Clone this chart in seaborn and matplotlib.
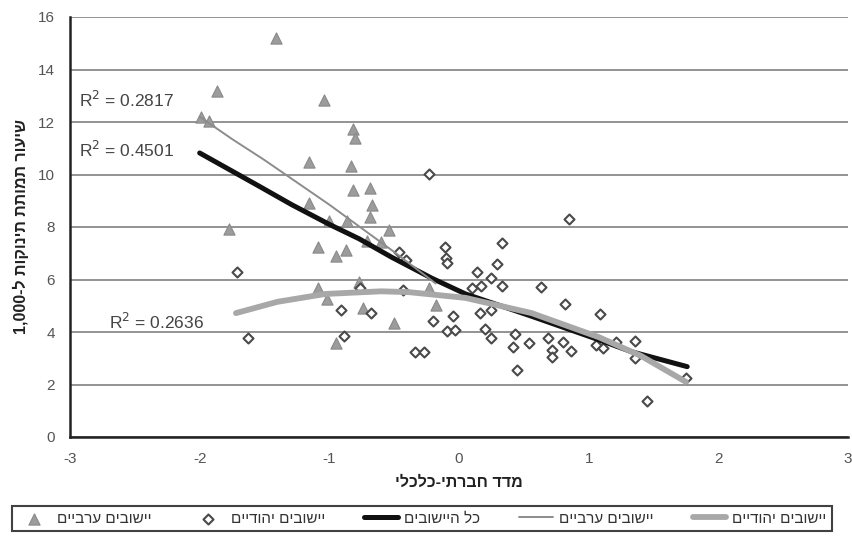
import re
import matplotlib
matplotlib.use("Agg")
import matplotlib.pyplot as plt
import seaborn as sns
import pandas as pd

# ---------------- data ----------------
arab_x = [-1.41, -1.87, -1.99, -1.93, -1.04, -0.82, -0.80, -1.16, -0.83, -0.82,
          -0.69, -1.16, -0.67, -1.77, -1.00, -0.86, -0.69, -0.54, -1.09, -0.71,
          -0.60, -0.95, -0.87, -1.09, -1.02, -0.77, -0.74, -0.50, -0.95, -0.18,
          -0.23]
arab_y = [15.20, 13.20, 12.20, 12.05, 12.84, 11.73, 11.40, 10.48, 10.32, 9.40,
          9.50, 8.90, 8.84, 7.94, 8.21, 8.21, 8.38, 7.87, 7.25, 7.45,
          7.43, 6.90, 7.14, 5.68, 5.26, 5.90, 4.91, 4.34, 3.58, 5.03,
          5.68]

jew_x = [-0.23, 0.85, -0.11, 0.33, -0.10, -0.09, -0.46, -0.41, 0.29, 0.14,
         0.25, 0.33, 0.17, 0.10, 0.63, -0.43, 0.82, 1.09, -0.05, 0.16,
         0.25, -0.20, -0.09, -0.03, 0.20, 0.25, 0.43, 0.42, 0.54, 0.69,
         0.80, 0.72, 0.72, 0.86, 1.06, 1.11, 1.21, 1.36, 1.36, -0.34,
         -0.27, 0.45, 1.75, 1.45, -1.71, -1.63, -0.91, -0.89, -0.68, -0.76]
jew_y = [10.02, 8.30, 7.24, 7.39, 6.82, 6.63, 7.05, 6.76, 6.59, 6.29,
         6.06, 5.75, 5.75, 5.68, 5.71, 5.60, 5.07, 4.69, 4.60, 4.72,
         4.84, 4.42, 4.04, 4.08, 4.11, 3.77, 3.92, 3.43, 3.58, 3.77,
         3.62, 3.31, 3.05, 3.28, 3.50, 3.39, 3.62, 3.66, 3.01, 3.22,
         3.24, 2.55, 2.25, 1.37, 6.29, 3.77, 4.84, 3.85, 4.72, 5.68]

# trend curves
all_fit_x = [-2.00, -1.54, -1.29, -1.00, -0.77, -0.52, -0.21, 0.05, 0.56, 1.08, 1.33, 1.76]
all_fit_y = [10.82, 9.55, 8.85, 8.10, 7.55, 6.85, 6.05, 5.45, 4.60, 3.70, 3.25, 2.68]

arab_fit_x = [-2.00, -1.75, -1.50, -1.25, -1.00, -0.75, -0.50, -0.18]
arab_fit_y = [12.20, 11.35, 10.55, 9.70, 8.85, 7.95, 7.05, 5.85]

jew_fit_x = [-1.72, -1.40, -1.03, -0.60, -0.39, 0.05, 0.56, 1.08, 1.40, 1.75]
jew_fit_y = [4.72, 5.15, 5.45, 5.55, 5.52, 5.30, 4.72, 3.80, 3.10, 2.10]

r2_labels = ["R$^2$ = 0.2817", "R$^2$ = 0.4501", "R$^2$ = 0.2636"]
r2_x = [-2.93, -2.93, -2.70]
r2_y = [12.84, 10.93, 4.38]

x_ticks = [-3, -2, -1, 0, 1, 2, 3]
y_ticks = [0, 2, 4, 6, 8, 10, 12, 14, 16]

lbl_arab = "יישובים ערביים"
lbl_jew = "יישובים יהודיים"
lbl_all = "כל היישובים"
x_title = "מדד חברתי-כלכלי"
y_title = "שיעור תמותת תינוקות ל-1,000"


def visual(s):
    """Hebrew logical order -> visual order (keep numbers readable)."""
    r = s[::-1]
    return re.sub(r"[0-9][0-9,.]*", lambda m: m.group(0)[::-1], r)


# ---------------- style ----------------
sns.set_style("white")
plt.rcParams["font.family"] = ["Liberation Sans", "DejaVu Sans"]

fig = plt.figure(figsize=(8.53, 5.37), dpi=100)
ax = fig.add_axes([70 / 853, 1 - 437 / 537, 778 / 853, 420 / 537])

df_a = pd.DataFrame({"x": arab_x, "y": arab_y})
df_j = pd.DataFrame({"x": jew_x, "y": jew_y})

sns.scatterplot(data=df_a, x="x", y="y", marker="^", s=65, color="#9c9c9c",
                edgecolor="#8a8a8a", linewidth=0.8, ax=ax, label=visual(lbl_arab), zorder=3)
sns.scatterplot(data=df_j, x="x", y="y", marker="D", s=26, facecolor="white",
                edgecolor="#4a4a4a", linewidth=1.5, ax=ax, label=visual(lbl_jew), zorder=4)

sns.lineplot(x=all_fit_x, y=all_fit_y, sort=False, estimator=None, color="#111111",
             linewidth=3.6, ax=ax, label=visual(lbl_all), zorder=5)
sns.lineplot(x=arab_fit_x, y=arab_fit_y, sort=False, estimator=None, color="#8c8c8c",
             linewidth=1.4, ax=ax, label=visual(lbl_arab), zorder=5)
sns.lineplot(x=jew_fit_x, y=jew_fit_y, sort=False, estimator=None, color="#a8a8a8",
             linewidth=4.2, ax=ax, label=visual(lbl_jew), zorder=6)

for t, xx, yy in zip(r2_labels, r2_x, r2_y):
    ax.text(xx, yy, t, fontsize=12.5, color="#444444", va="center", ha="left", zorder=7)

ax.set_xlim(-3, 3)
ax.set_ylim(0, 16)
ax.set_xticks(x_ticks)
ax.set_yticks(y_ticks)
ax.set_xticklabels([str(v) for v in x_ticks])
ax.set_yticklabels([str(v) for v in y_ticks])
ax.tick_params(axis="both", labelsize=11, labelcolor="#555555", color="#222222",
               direction="out", length=5, width=1.4, pad=6)
ax.yaxis.grid(True, color="#8a8a8a", linewidth=1.3)
ax.xaxis.grid(False)
ax.set_axisbelow(True)
for side in ["top", "right"]:
    ax.spines[side].set_visible(False)
for side in ["left", "bottom"]:
    ax.spines[side].set_color("#222222")
    ax.spines[side].set_linewidth(1.8)

ax.set_xlabel(visual(x_title), fontsize=11.5, fontweight="bold", color="#222222", labelpad=6)
ax.set_ylabel(visual(y_title), fontsize=11.5, fontweight="bold", color="#222222", labelpad=6)

handles, labels = ax.get_legend_handles_labels()
ax.get_legend().remove()
leg = fig.legend(handles, labels, loc="lower left", ncol=5, mode="expand",
                 bbox_to_anchor=(12 / 853, 6 / 537, 820 / 853, 26 / 537),
                 fontsize=11, frameon=True, fancybox=False, borderaxespad=0,
                 handlelength=2.2, handletextpad=0.4, columnspacing=1.0,
                 borderpad=0.35)
leg.get_frame().set_edgecolor("#111111")
leg.get_frame().set_linewidth(1.5)
for txt in leg.get_texts():
    txt.set_color("#333333")

fig.savefig("out.png", dpi=100)
